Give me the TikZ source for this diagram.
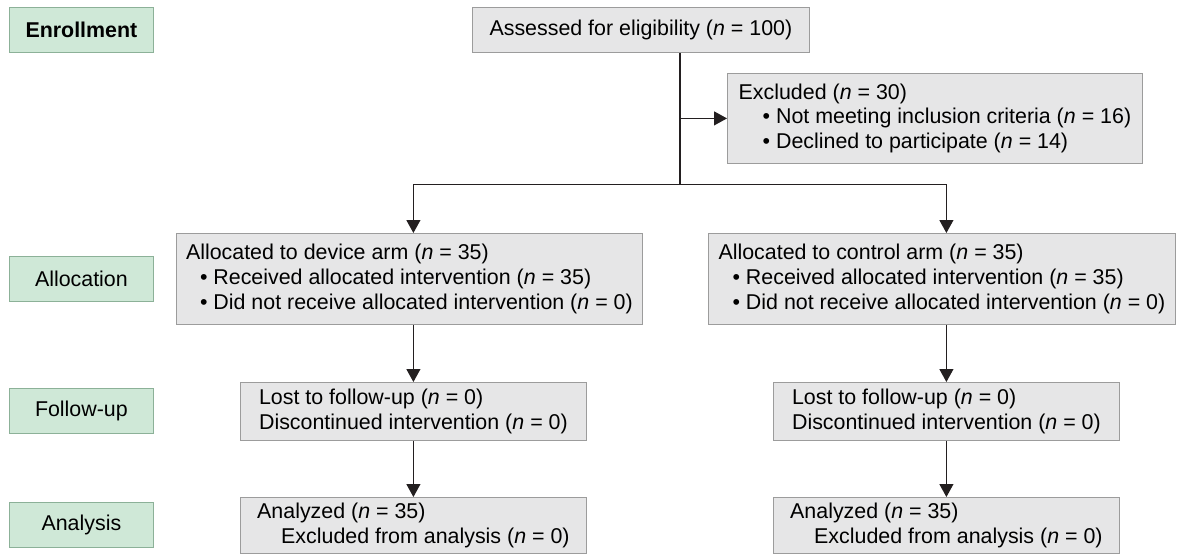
\documentclass[tikz,border=0pt]{standalone}
\usepackage{fontspec}
\setmainfont{Liberation Sans}
\usetikzlibrary{arrows.meta, positioning, calc}
\definecolor{boxfill}{HTML}{E6E6E7}
\definecolor{boxline}{HTML}{9C9C9C}
\definecolor{stagefill}{HTML}{CFE8D7}
\definecolor{stageline}{HTML}{8CB198}
\definecolor{linecol}{HTML}{231F20}

\begin{document}
\begin{tikzpicture}[x=1pt, y=-1pt, >={Triangle[length=13pt,width=14pt]},
  font=\fontsize{21.4}{24.8}\selectfont,
  stage node/.style={rectangle, draw=stageline, fill=stagefill, line width=0.8pt,
    minimum width=144pt, minimum height=45pt, anchor=north west},
  main node/.style={rectangle, draw=boxline, fill=boxfill, line width=0.8pt,
    align=left, anchor=north west, inner sep=2pt},
  line/.style={draw=linecol, line width=1.2pt},
  flow/.style={line, ->}]
  \useasboundingbox (0,0) rectangle (1177,555);
  % stages
  \node[stage node] (enrol) at (9,7) {\textbf{Enrollment}};
  \node[stage node] (alloc) at (9,256) {Allocation};
  \node[stage node] (follow) at (9,388) {Follow-up};
  \node[stage node] (analy) at (9,502) {Analysis};
  % boxes
  \node[main node, align=center, minimum width=337pt, minimum height=45pt] (assess) at (472,7)
    {Assessed for eligibility (\textit{n} = 100)};
  \node[main node, minimum width=415pt, minimum height=90pt] (excl) at (727,73)
    {Excluded (\textit{n} = 30)\\
     \hspace*{24pt}\textbullet\ Not meeting inclusion criteria (\textit{n} = 16)\\
     \hspace*{24pt}\textbullet\ Declined to participate (\textit{n} = 14)};
  \node[main node, minimum width=466pt, minimum height=91pt] (dev) at (176,233)
    {Allocated to device arm (\textit{n} = 35)\\
     \hspace*{14pt}\textbullet\ Received allocated intervention (\textit{n} = 35)\\
     \hspace*{14pt}\textbullet\ Did not receive allocated intervention (\textit{n} = 0)};
  \node[main node, minimum width=467pt, minimum height=91pt] (ctrl) at (708,233)
    {Allocated to control arm (\textit{n} = 35)\\
     \hspace*{14pt}\textbullet\ Received allocated intervention (\textit{n} = 35)\\
     \hspace*{14pt}\textbullet\ Did not receive allocated intervention (\textit{n} = 0)};
  \node[main node, minimum width=346pt, minimum height=58pt] (lost1) at (240,382)
    {Lost to follow-up (\textit{n} = 0)\\
     Discontinued intervention (\textit{n} = 0)};
  \node[main node, minimum width=346pt, minimum height=58pt] (lost2) at (773,382)
    {Lost to follow-up (\textit{n} = 0)\\
     Discontinued intervention (\textit{n} = 0)};
  \node[main node, minimum width=346pt, minimum height=56pt] (ana1) at (240,497)
    {Analyzed (\textit{n} = 35)\\
     \hspace*{24pt}Excluded from analysis (\textit{n} = 0)};
  \node[main node, minimum width=346pt, minimum height=56pt] (ana2) at (773,497)
    {Analyzed (\textit{n} = 35)\\
     \hspace*{24pt}Excluded from analysis (\textit{n} = 0)};
  % connectors
  \coordinate (stem) at ([xshift=39pt]assess.south);
  \coordinate (split) at ([yshift=-132pt]stem);
  \draw[line] (stem) -- (split);
  \draw[flow] (stem |- excl.west) -- (excl.west);
  \draw[flow] (split) -| (dev.north -| lost1.north);
  \draw[flow] (split) -| (ctrl.north -| lost2.north);
  \draw[flow] (dev.south -| lost1.north) -- (lost1.north);
  \draw[flow] (ctrl.south -| lost2.north) -- (lost2.north);
  \draw[flow] (lost1) -- (ana1);
  \draw[flow] (lost2) -- (ana2);
\end{tikzpicture}
\end{document}
